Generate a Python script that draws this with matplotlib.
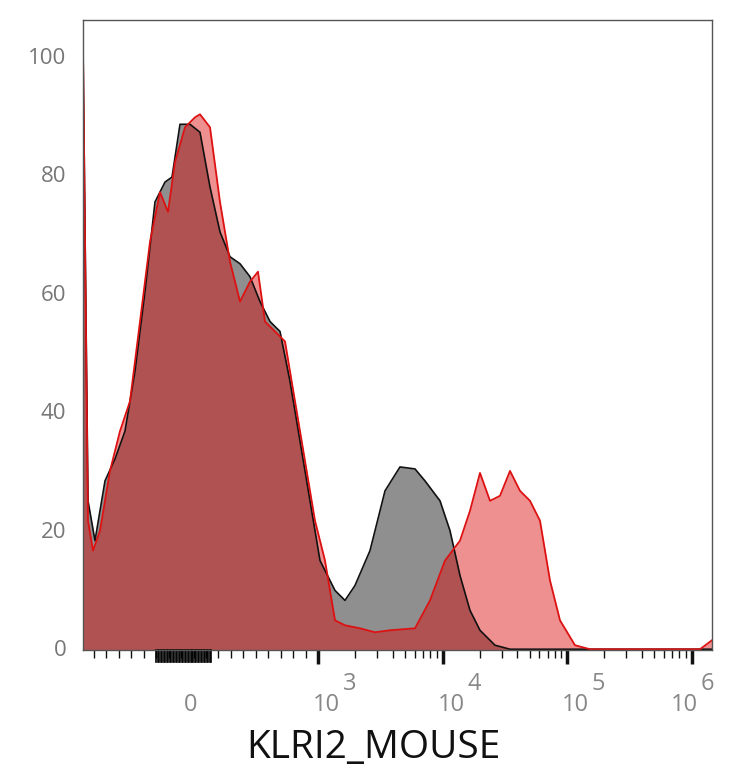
import numpy as np
import matplotlib
matplotlib.use('Agg')
import matplotlib.pyplot as plt

plt.rcParams['font.family'] = ['Open Sans', 'DejaVu Sans']

# pixel traces (x px, y px) -> converted to axis units
gray_px_x = [83, 88, 95, 105, 115, 125, 135, 145, 155, 165, 172, 180, 190, 200, 210, 220, 230, 240, 250,
             260, 270, 280, 290, 300, 310, 320, 335, 345, 355, 370, 385, 400, 415, 425, 440, 450, 460,
             470, 480, 495, 510, 712]
gray_px_y = [45, 500, 540, 480, 458, 430, 370, 290, 200, 180, 175, 122, 122, 130, 185, 230, 255, 262, 275,
             300, 320, 330, 380, 440, 500, 560, 590, 600, 585, 550, 490, 466, 468, 480, 500, 530, 575,
             610, 630, 645, 649, 649]
red_px_x = [83, 88, 93, 100, 110, 120, 130, 140, 150, 160, 168, 175, 185, 195, 200, 210, 220, 230, 240,
            250, 258, 265, 275, 285, 295, 305, 315, 325, 335, 345, 360, 375, 390, 415, 430, 445, 460,
            470, 480, 490, 500, 510, 520, 530, 540, 550, 560, 575, 590, 700, 712]
red_px_y = [45, 520, 550, 530, 470, 430, 400, 320, 240, 190, 210, 160, 125, 115, 112, 125, 200, 260, 300,
            280, 270, 320, 330, 340, 400, 460, 520, 560, 620, 625, 628, 632, 630, 628, 600, 560, 540,
            510, 472, 500, 495, 470, 490, 500, 520, 580, 620, 645, 649, 649, 640]

def tx(px):
    return 3 + (np.array(px) - 318) / 124.5

def ty(py):
    return (648 - np.array(py)) / 5.95

fig = plt.figure(figsize=(7.34, 7.68), dpi=100)
ax = fig.add_axes([83/734, 118/768, 629/734, 630/768])

gx, gy = tx(gray_px_x), ty(gray_px_y)
rx, ry = tx(red_px_x), ty(red_px_y)
ax.fill_between(gx, gy, -1, color='#8f8f8f', lw=0)
ax.plot(gx, gy, color='#111111', lw=1.2)
ax.fill_between(rx, ry, -1, color=(218/255, 9/255, 9/255), alpha=0.45, lw=0)
ax.plot(rx, ry, color='#dd1111', lw=1.3)

ax.set_xlim(tx(83), tx(712))
ax.set_ylim(-0.3, 106)
for s in ax.spines.values():
    s.set_color('#555555')
    s.set_linewidth(1)

ax.set_yticks([0, 20, 40, 60, 80, 100])
ax.tick_params(axis='y', length=0, labelsize=16, labelcolor='#777777', pad=12)

# x ticks: majors at decades, log minors, linear-ish minors below 10^3
majors = [3, 4, 5, 6]
minors = [np.log10(m * 10**d) for d in (3, 4, 5) for m in range(2, 10)]
low = list(np.arange(1.2, 2.95, 0.1))
ax.set_xticks(majors)
ax.set_xticks(minors + low, minor=True)
ax.set_xticklabels([])
ax.tick_params(axis='x', which='major', length=10, width=2.5, color='#111111')
ax.tick_params(axis='x', which='minor', length=6, width=1, color='#111111')
# dense black ticks around zero
for xs in np.arange(1.7, 2.15, 0.012):
    ax.plot([xs, xs], [-0.3, -2.3], color='black', lw=1.2, clip_on=False)

trans = ax.get_xaxis_transform()
lab_kw = dict(transform=trans, va='top', fontsize=17, color='#888888')
ax.text(1.976, -0.068, '0', ha='center', **lab_kw)
for d in majors:
    off = 0.18 if d < 6 else 0.05
    ax.text(d + off, -0.068, '10', ha='right', **lab_kw)
    ax.text(d + off + 0.02, -0.035, str(d), ha='left', **lab_kw)
ax.text(tx(373), -0.125, 'KLRI2_MOUSE', transform=trans,
        ha='center', va='top', fontsize=28, color='#111111')

fig.savefig('out.png', dpi=100)
